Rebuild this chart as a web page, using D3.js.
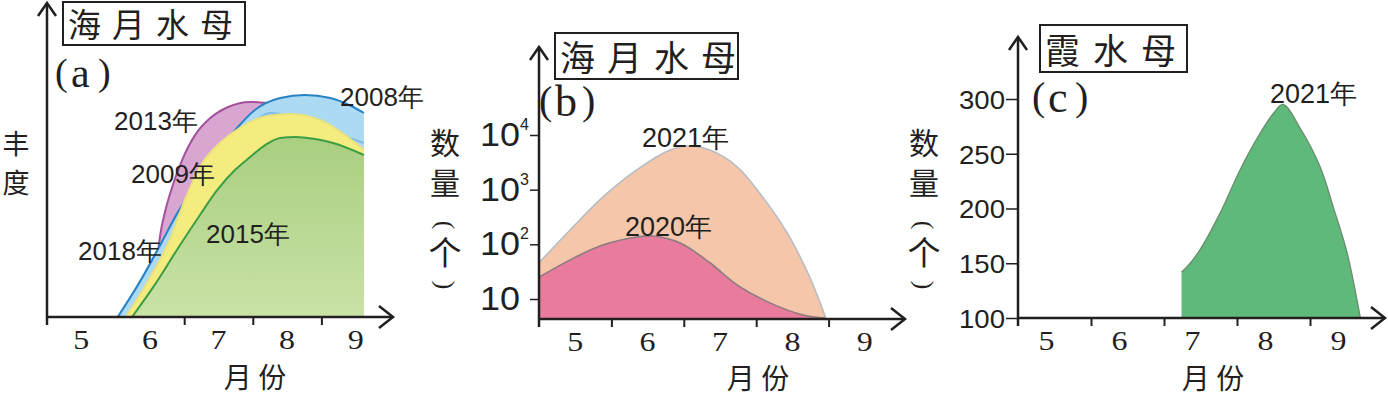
<!DOCTYPE html>
<html>
<head>
<meta charset="utf-8">
<script src="https://cdn.jsdelivr.net/npm/d3@7"></script>
<style>
body { margin: 0; background: #fff; }
</style>
</head>
<body>
<svg id="chart" width="1388" height="397"></svg>
<script>
// ---- data ----
var monthLabels = [5, 6, 7, 8, 9];
var boundsA = [6.5, 7.5, 8.5];
var boundsBC = [5.5, 6.5, 7.5, 8.5];

// (a) 海月水母, relative abundance (no scale)
var months2013 = [6.03, 6.09, 6.15, 6.22, 6.32, 6.47, 6.66, 6.88, 7.14, 7.46, 7.72, 7.97, 8.26];
var vals2013   = [0, 15.7, 27.3, 35, 43, 52.3, 60.7, 66.3, 70, 71.7, 71.3, 69.7, 66.3];
var months2008 = [5.53, 5.86, 6.15, 6.41, 6.73, 6.99, 7.27, 7.53, 7.9, 8.26, 8.63, 8.92, 9.12];
var vals2008   = [0, 12, 24, 35, 46, 55, 63, 69, 73, 74, 73, 70.5, 68];
var months2018 = [5.53, 5.86, 6.15, 6.41, 6.73, 7.1, 7.46, 7.75, 8.04, 8.38, 9.12];
var vals2018   = [0, 12, 24, 35, 46, 56, 64, 68, 67, 64, 58];
var months2009 = [5.65, 6.0, 6.29, 6.51, 6.73, 7.02, 7.31, 7.65, 8.04, 8.48, 8.84, 9.12];
var vals2009   = [0, 13, 25.7, 39, 50, 58, 63, 66.7, 67.7, 65.7, 60.7, 55.7];
var months2015 = [5.74, 6.07, 6.44, 6.73, 6.98, 7.24, 7.46, 7.68, 7.9, 8.12, 8.41, 8.67, 9.12];
var vals2015   = [0, 10.7, 24, 34, 42.3, 49, 53.3, 57.3, 59.7, 60, 59.3, 58, 54];

// (b) 海月水母, count (log scale)
var logTicks = [10, 100, 1000, 10000];
var logTickExp = ["", "2", "3", "4"];
var months2021b = [4.5, 4.93, 5.38, 5.85, 6.31, 6.54, 6.86, 7.24, 7.59, 7.93, 8.24, 8.42, 8.46];
var vals2021b   = [46, 183, 730, 2300, 5300, 6300, 5300, 2600, 730, 160, 25, 6.3, 4.5];
var months2020b = [4.5, 4.93, 5.38, 5.85, 6.08, 6.45, 6.86, 7.24, 7.69, 8.15, 8.45];
var vals2020b   = [25, 52, 97, 136, 142, 106, 46, 18, 8.5, 5.1, 4.5];
var logBase = 4.3;

// (c) 霞水母, count
var linTicks = [100, 150, 200, 250, 300];
var months2021c = [6.74, 6.82, 6.99, 7.27, 7.54, 7.82, 8.0, 8.13, 8.36, 8.64, 8.82, 9.01, 9.19];
var vals2021c   = [142, 147, 162, 196, 235, 269, 287, 295, 274, 238, 201, 159, 100];

var svg = d3.select("#chart");
var ink = "#231f20";
var cjk = "'Noto Sans CJK SC', sans-serif";
var serif = "'Liberation Serif', 'DejaVu Serif', serif";
var sans = "'Liberation Sans', Arial, sans-serif";

var defs = svg.append("defs");
var grad = defs.append("linearGradient").attr("id", "greenGrad")
    .attr("x1", 0).attr("y1", 0).attr("x2", 0).attr("y2", 1);
grad.append("stop").attr("offset", "0%").attr("stop-color", "#a9cf80");
grad.append("stop").attr("offset", "100%").attr("stop-color", "#c9e2a6");

function pts(ms, vs) {
    return ms.map(function(m, i) { return [m, vs[i]]; });
}

function txt(x, y, s, size, family, anchor) {
    return svg.append("text")
        .attr("x", x).attr("y", y)
        .attr("font-size", size)
        .attr("font-family", family)
        .attr("text-anchor", anchor || "start")
        .attr("fill", ink)
        .text(s);
}

//Vertical y label: characters stacked, brackets drawn as turned parens
function ylabel(x) {
    txt(x, 154, "数", 30, cjk, "middle");
    txt(x, 194, "量", 30, cjk, "middle");
    txt(x, 265, "个", 33, cjk, "middle");
    [["(", 225], [")", 285]].forEach(function(p) {
        txt(x, p[1], p[0], 26, serif, "middle")
            .attr("dominant-baseline", "central")
            .attr("transform", "rotate(90," + x + "," + p[1] + ")");
    });
}

//Panel letter like (a)
function letter(x, y, s, size) {
    txt(x, y - 2, "(", size - 4, serif);
    txt(x + 16, y, s, size, serif);
    txt(x + 43, y - 2, ")", size - 4, serif);
}

//Boxed title with spaced characters
function title(x, y, w, h, s, size, spacing) {
    svg.append("rect").attr("x", x).attr("y", y).attr("width", w).attr("height", h)
        .attr("fill", "#fff").attr("stroke", ink).attr("stroke-width", 2);
    txt(x + 5, y + h - 8, s, size, cjk).attr("letter-spacing", spacing);
}

//Axis lines with open chevron arrow heads
function axes(x0, yTop, yBase, xEnd) {
    svg.append("line").attr("x1", x0).attr("y1", yBase + 8).attr("x2", x0).attr("y2", yTop)
        .attr("stroke", ink).attr("stroke-width", 2.5);
    svg.append("line").attr("x1", x0).attr("y1", yBase).attr("x2", xEnd).attr("y2", yBase)
        .attr("stroke", ink).attr("stroke-width", 2.5);
    svg.append("path")
        .attr("d", "M" + (x0 - 9) + "," + (yTop + 13) + "L" + x0 + "," + yTop + "L" + (x0 + 9) + "," + (yTop + 13))
        .attr("fill", "none").attr("stroke", ink).attr("stroke-width", 2.5);
    svg.append("path")
        .attr("d", "M" + (xEnd - 14) + "," + (yBase - 11) + "L" + xEnd + "," + yBase + "L" + (xEnd - 14) + "," + (yBase + 11))
        .attr("fill", "none").attr("stroke", ink).attr("stroke-width", 2.5);
}

function monthAxis(x, yBase, bounds, dx) {
    var g = svg.append("g").attr("transform", "translate(0," + yBase + ")")
        .call(d3.axisBottom(x).tickValues(bounds).tickSize(8).tickSizeOuter(0).tickFormat(""));
    g.select(".domain").remove();
    g.selectAll(".tick line").attr("stroke", ink).attr("stroke-width", 2);
    monthLabels.forEach(function(m) {
        txt(x(m) + dx, yBase + 32, m, 28, serif, "middle")
            .attr("textLength", 16).attr("lengthAdjust", "spacingAndGlyphs");
    });
}

// ================= panel (a) =================
var xA = d3.scaleLinear().domain([4.5, 9.5]).range([47, 390]);
var yA = d3.scaleLinear().domain([0, 100]).range([317, 17]);
var areaA = d3.area().x(function(d) { return xA(d[0]); }).y0(yA(0))
    .y1(function(d) { return yA(d[1]); }).curve(d3.curveMonotoneX);
var lineA = d3.line().x(function(d) { return xA(d[0]); })
    .y(function(d) { return yA(d[1]); }).curve(d3.curveMonotoneX);

var layersA = [
    {ms: months2013, vs: vals2013, fill: "#d9a6d1", stroke: "#a4519c", op: 1},
    {ms: months2008, vs: vals2008, fill: "#acdaf3", stroke: "#2883c5", op: 1},
    {ms: months2018, vs: vals2018, fill: "none", stroke: "#2883c5", op: 0.35},
    {ms: months2009, vs: vals2009, fill: "#f4ec7e", stroke: "#ece27a", op: 1},
    {ms: months2015, vs: vals2015, fill: "url(#greenGrad)", stroke: "#3c9e44", op: 1}
];
layersA.forEach(function(l) {
    var d = pts(l.ms, l.vs);
    svg.append("path").attr("d", areaA(d)).attr("fill", l.fill).attr("stroke", "none");
    svg.append("path").attr("d", lineA(d)).attr("fill", "none")
        .attr("stroke", l.stroke).attr("stroke-width", 2).attr("stroke-opacity", l.op);
});

axes(47, 3, 317, 393);
monthAxis(xA, 317, boundsA, 0);
title(63, 2, 182, 43, "海月水母", 33, 11);
letter(55, 87, "a", 42);
txt(16, 154, "丰", 27, cjk, "middle");
txt(16, 193, "度", 27, cjk, "middle");
txt(255, 388, "月 份", 28, cjk, "middle");

txt(340, 106, "2008年", 26, sans);
txt(114, 130, "2013年", 26, sans);
txt(131, 183, "2009年", 26, sans);
txt(206, 243, "2015年", 26, sans);
txt(78, 260, "2018年", 26, sans);

// ================= panel (b) =================
var xB = d3.scaleLinear().domain([4.5, 9.5]).range([539, 901]);
var yB = d3.scaleLog().domain([10, 10000]).range([299, 135]);
var areaB = d3.area().x(function(d) { return xB(d[0]); }).y0(yB(logBase))
    .y1(function(d) { return yB(d[1]); }).curve(d3.curveCatmullRom.alpha(0.5));
var lineB = d3.line().x(function(d) { return xB(d[0]); })
    .y(function(d) { return yB(d[1]); }).curve(d3.curveCatmullRom.alpha(0.5));

var d2021b = pts(months2021b, vals2021b);
var d2020b = pts(months2020b, vals2020b);
svg.append("path").attr("d", areaB(d2021b)).attr("fill", "#f6c6ab");
svg.append("path").attr("d", lineB(d2021b)).attr("fill", "none").attr("stroke", "#b5bcc4").attr("stroke-width", 1.6);
svg.append("path").attr("d", areaB(d2020b)).attr("fill", "#e97b9d");
svg.append("path").attr("d", lineB(d2020b)).attr("fill", "none").attr("stroke", "#8c7c80").attr("stroke-width", 1.6);

var yBase = yB(logBase);
axes(539, 47, yBase, 905);
monthAxis(xB, yBase, boundsBC, 0);
var gyB = svg.append("g").attr("transform", "translate(539,0)")
    .call(d3.axisLeft(yB).tickValues(logTicks).tickSize(9).tickFormat(""));
gyB.select(".domain").remove();
gyB.selectAll(".tick line").attr("stroke", ink).attr("stroke-width", 1.5);
logTicks.forEach(function(v, i) {
    txt(520, yB(v) + 11, "10", 33, sans, "end")
        .attr("textLength", 40).attr("lengthAdjust", "spacingAndGlyphs");
    if (logTickExp[i]) txt(520, yB(v) - 5, logTickExp[i], 16, sans);
});
title(555, 33, 183, 46, "海月水母", 35, 12);
letter(539, 116, "b", 44);
ylabel(445);
txt(758, 389, "月 份", 28, cjk, "middle");
txt(642, 147, "2021年", 27, sans);
txt(625, 236, "2020年", 27, sans);

// ================= panel (c) =================
var xC = d3.scaleLinear().domain([4.5, 9.5]).range([1018, 1383]);
var yC = d3.scaleLinear().domain([100, 300]).range([318, 99]);
var areaC = d3.area().x(function(d) { return xC(d[0]); }).y0(yC(100))
    .y1(function(d) { return yC(d[1]); }).curve(d3.curveCatmullRom.alpha(0.5));
var lineC = d3.line().x(function(d) { return xC(d[0]); })
    .y(function(d) { return yC(d[1]); }).curve(d3.curveCatmullRom.alpha(0.5));
var d2021c = pts(months2021c, vals2021c);
svg.append("path").attr("d", areaC(d2021c)).attr("fill", "#5fb97a");
svg.append("path").attr("d", lineC(d2021c)).attr("fill", "none").attr("stroke", "#6a8c6e").attr("stroke-width", 1.3);

axes(1018, 37, 318, 1385);
monthAxis(xC, 318, boundsBC, -8);
var gyC = svg.append("g").attr("transform", "translate(1018,0)")
    .call(d3.axisLeft(yC).tickValues(linTicks).tickSize(12).tickPadding(1).tickFormat(d3.format("d")));
gyC.select(".domain").remove();
gyC.selectAll(".tick line").attr("stroke", ink).attr("stroke-width", 1.5);
gyC.selectAll(".tick text").attr("font-size", 26).attr("font-family", sans)
    .attr("fill", ink).attr("dy", "0.36em")
    .attr("textLength", 46).attr("lengthAdjust", "spacingAndGlyphs");
title(1040, 25, 147, 47, "霞水母", 35, 13);
letter(1032, 112, "c", 44);
ylabel(924);
txt(1213, 389, "月 份", 28, cjk, "middle");
txt(1270, 103, "2021年", 27, sans);
</script>
</body>
</html>
